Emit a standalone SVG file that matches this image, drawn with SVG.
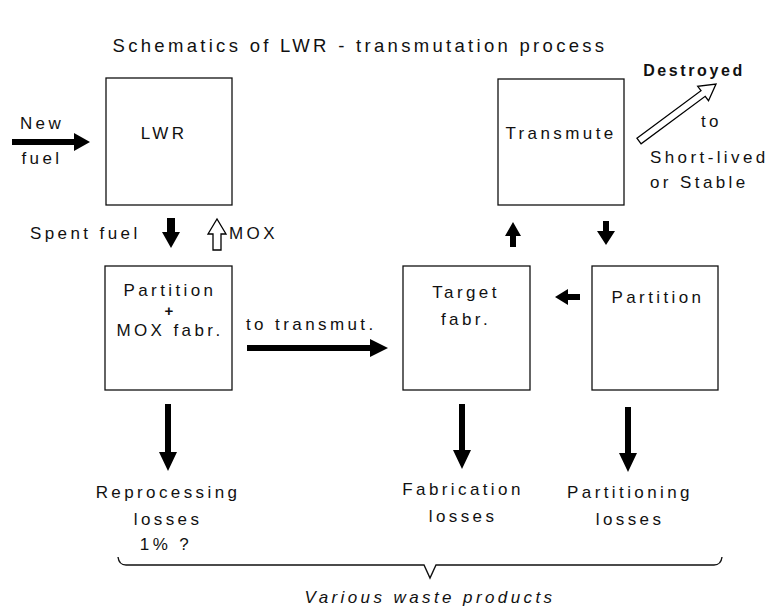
<svg xmlns="http://www.w3.org/2000/svg" width="772" height="610" viewBox="0 0 772 610">
<style>
.box{fill:#fff;stroke:#111;stroke-width:1.3}
.t{font-family:"Liberation Sans",Arial,sans-serif;font-size:17px;fill:#111;letter-spacing:3.4px}
.c{text-anchor:middle}
.solid{fill:#000}
.hollow{fill:#fff;stroke:#000;stroke-width:1.3;stroke-linejoin:miter}
</style>
<rect width="772" height="610" fill="#fff"/>
<text class="t c" x="360" y="52" style="font-size:18.5px;letter-spacing:3.3px">Schematics of LWR - transmutation process</text>

<g id="lwr"><rect class="box" x="106" y="78" width="126" height="127"/><text class="t c" x="164" y="139">LWR</text></g>
<g id="partition-mox"><rect class="box" x="105" y="266" width="127" height="124"/><text class="t c" x="170" y="296">Partition</text><text class="t c" x="169" y="316" style="font-weight:bold;font-size:15px;letter-spacing:0">+</text><text class="t c" x="170" y="336">MOX fabr.</text></g>
<g id="target-fabr"><rect class="box" x="403" y="266" width="127" height="124"/><text class="t c" x="466" y="298">Target</text><text class="t c" x="466" y="325">fabr.</text></g>
<g id="partition"><rect class="box" x="592" y="266" width="126" height="124"/><text class="t c" x="658" y="303">Partition</text></g>
<g id="transmute"><rect class="box" x="498" y="79" width="126" height="126"/><text class="t c" x="561" y="139">Transmute</text></g>

<g id="connectors">
<!-- New fuel -->
<polygon class="solid" points="12,139 74,139 74,133 90,142 74,151 74,145 12,145"/>
<!-- Spent fuel down -->
<polygon class="solid" points="167,218 175,218 175,232 180,232 171,248 162,232 167,232"/>
<!-- MOX hollow up -->
<polygon class="hollow" points="213,250 221,250 221,234 226,234 217,219 208,234 213,234"/>
<!-- Target -> Transmute up -->
<polygon class="solid" points="510,247 516,247 516,236 521,236 513,222 505,236 510,236"/>
<!-- Transmute -> Partition down -->
<polygon class="solid" points="603,221 609,221 609,231 615,231 606,245 597,231 603,231"/>
<!-- Partition -> Target left -->
<polygon class="solid" points="580,294 580,300 568,300 568,305 555,297 568,289 568,294"/>
<!-- to transmut. -->
<polygon class="solid" points="247,345 370,345 370,339 388,348 370,357 370,351 247,351"/>
<!-- losses down -->
<polygon class="solid" points="165,404 171,404 171,452 177,452 168,471 159,452 165,452"/>
<polygon class="solid" points="459,404 465,404 465,450 471,450 462,469 453,450 459,450"/>
<polygon class="solid" points="625,407 631,407 631,453 637,453 628,472 619,453 625,453"/>
<!-- Destroyed hollow diagonal -->
<polygon class="hollow" points="636.9,138.2 701,90.7 697.7,86.3 716,84 708.5,100.7 705.2,96.3 641.1,143.8"/>
<!-- brace -->
<path d="M118,557 Q119,565 126,565 L424,565 L430,578 L436,565 L714,565 Q721,565 722,557" fill="none" stroke="#111" stroke-width="1.4"/>
</g>

<text class="t c" x="42" y="129">New</text>
<text class="t c" x="42" y="164">fuel</text>
<text class="t" x="30" y="239">Spent fuel</text>
<text class="t" x="229" y="239">MOX</text>
<text class="t" x="246" y="330">to transmut.</text>
<text class="t c" x="694" y="76" style="font-weight:bold;font-size:16px;letter-spacing:2.6px">Destroyed</text>
<text class="t" x="701" y="127">to</text>
<text class="t" x="650" y="163">Short-lived</text>
<text class="t" x="650" y="188">or Stable</text>
<text class="t c" x="168" y="498">Reprocessing</text>
<text class="t c" x="168" y="525">losses</text>
<text class="t c" x="166" y="550">1% ?</text>
<text class="t c" x="463" y="495">Fabrication</text>
<text class="t c" x="463" y="522">losses</text>
<text class="t c" x="630" y="498">Partitioning</text>
<text class="t c" x="630" y="525">losses</text>
<text class="t c" x="430" y="603" style="font-style:italic">Various waste products</text>
</svg>
